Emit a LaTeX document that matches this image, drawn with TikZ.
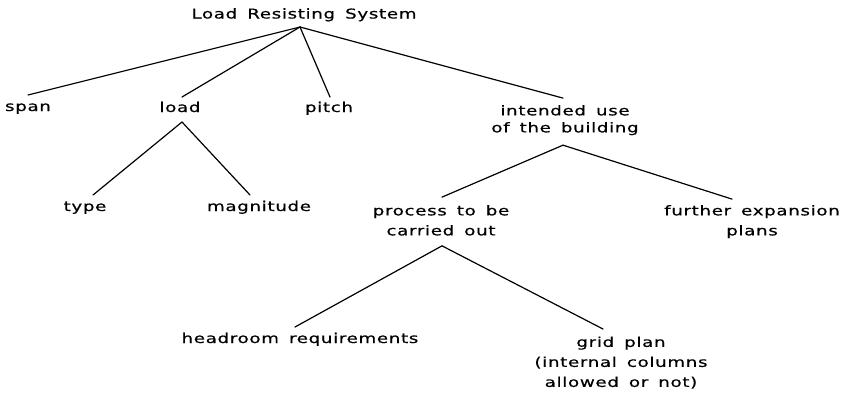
\documentclass[tikz,border=0pt]{standalone}
\usepackage{fontspec}
\setmainfont{DejaVu Sans}[FakeStretch=1.35, LetterSpace=5, WordSpace=1.55, FakeBold=0.6]
\usetikzlibrary{calc}

\begin{document}
\begin{tikzpicture}[x=1pt,y=1pt,
  lbl/.style={inner sep=0pt, outer sep=0pt, font=\fontsize{13.5}{20}\selectfont,
              text height=10pt, text depth=3pt, anchor=base},
  mlbl/.style={inner sep=0pt, outer sep=0pt, align=center, anchor=north,
               font=\fontsize{13.5}{20}\selectfont},
  branch/.style={line width=1.2pt, line cap=round}]
\useasboundingbox (0,0) rectangle (858,-394);

% labels of the tree
\node[lbl] (root) at (304,-18.5) {Load Resisting System};
\node[lbl] (span) at (28,-111) {span};
\node[lbl] (load) at (180,-112) {load};
\node[lbl] (pitch) at (329,-112) {pitch};
\node[mlbl, font=\fontsize{13.5}{17}\selectfont] (use) at (565,-105.1)
  {intended use\\of the building};
\node[lbl] (type) at (85,-211) {type};
\node[lbl] (magn) at (259,-211) {magnitude};
\node[mlbl] (process) at (441,-205.1) {process to be\\carried out};
\node[mlbl] (expand) at (752,-205.1) {further expansion\\plans};
\node[lbl] (head) at (300,-343) {headroom requirements};
\node[mlbl] (grid) at (621,-336.6) {grid plan\\(internal columns\\allowed or not)};

% branching points below the parent labels
\coordinate (rootfoot) at ([xshift=-4pt,yshift=-5.5pt]root.south);
\coordinate (loadfoot) at ([xshift=2pt,yshift=-7pt]load.south);
\coordinate (usefoot) at ([xshift=-2pt,yshift=-10pt]use.south);
\coordinate (procfoot) at ([xshift=1pt,yshift=-10.3pt]process.south);

% branches
\draw[branch] (rootfoot) -- ([yshift=6pt]span.north);
\draw[branch] (rootfoot) -- ([xshift=2pt,yshift=5pt]load.north);
\draw[branch] (rootfoot) -- ([xshift=1pt,yshift=5pt]pitch.north);
\draw[branch] (rootfoot) -- ([xshift=-2pt,yshift=7pt]use.north);
\draw[branch] (loadfoot) -- ([xshift=8pt,yshift=6pt]type.north);
\draw[branch] (loadfoot) -- ([xshift=-9pt,yshift=6pt]magn.north);
\draw[branch] (usefoot) -- ([xshift=1pt,yshift=8pt]process.north);
\draw[branch] (usefoot) -- ([xshift=-20pt,yshift=6pt]expand.north);
\draw[branch] (procfoot) -- ([xshift=-5pt,yshift=6pt]head.north);
\draw[branch] (procfoot) -- ([xshift=-18pt,yshift=7.6pt]grid.north);
\end{tikzpicture}
\end{document}
